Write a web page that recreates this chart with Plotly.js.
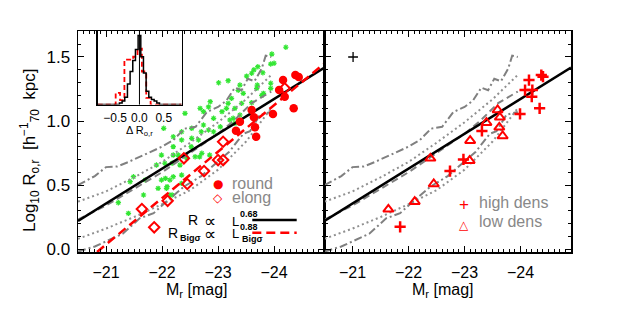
<!DOCTYPE html>
<html><head><meta charset="utf-8">
<script src="https://cdn.plot.ly/plotly-3.0.1.min.js"></script>
<style>body{margin:0;padding:0;background:#fff}#chart{width:629px;height:315px}</style>
</head><body><div id="chart"></div>
<script>
// ---- data ----
// comparison-sample curves (same in both panels)
const uddM = [-20.5,-20.8,-21.0,-21.2,-21.4,-21.7,-22.0,-22.2,-22.4,-22.6,-22.8,-23.0,-23.15,-23.3,-23.42,-23.53,-23.65,-23.78,-23.85,-23.95];
const uddR = [0.50,0.57,0.64,0.645,0.68,0.74,0.80,0.85,0.94,0.955,1.07,1.11,1.16,1.26,1.24,1.33,1.31,1.41,1.51,1.50];
const udM = [-20.5,-21.0,-21.5,-22.0,-22.5,-23.0,-23.5,-23.95];
const udR = [0.37,0.45,0.56,0.68,0.83,0.99,1.17,1.36];
const medM = [-20.5,-21.0,-21.5,-22.0,-22.5,-23.0,-23.3,-23.6,-23.95];
const medR = [0.23,0.34,0.47,0.60,0.75,0.90,1.01,1.14,1.23];
const ldM = [-20.5,-21.0,-21.5,-22.0,-22.5,-23.0,-23.5,-23.95];
const ldR = [0.08,0.16,0.25,0.35,0.46,0.62,0.84,1.10];
const lddM = [-20.5,-20.8,-21.0,-21.3,-21.6,-21.85,-22.1,-22.4,-22.7,-23.0,-23.2,-23.45,-23.57,-23.75,-23.95];
const lddR = [-0.02,0.02,0.06,0.12,0.24,0.28,0.38,0.49,0.57,0.68,0.76,0.90,0.92,1.05,1.07];
// fits
const fitM = [-20.5,-24.9];
const fitR = [0.22,1.417];
const bigM = [-20.84,-24.9];
const bigR = [-0.023,1.45];
// green comparison galaxies
const greenM = [-24.21,-23.96,-23.94,-24.00,-23.71,-23.60,-23.80,-23.01,-23.18,-23.39,-23.70,-23.94,-23.94,-23.81,-23.24,-22.86,-23.18,-23.42,-23.60,-22.68,-22.74,-23.07,-23.15,-22.41,-22.92,-23.27,-23.04,-22.83,-22.92,-22.53,-22.65,-23.36,-23.30,-23.45,-22.03,-22.20,-22.20,-22.35,-22.70,-22.35,-22.20,-22.52,-22.67,-21.99,-22.29,-22.85,-22.05,-21.90,-21.43,-21.70,-21.99,-22.14,-21.93,-22.08,-22.14,-21.67,-21.22,-21.40,-21.49,-22.18,-22.32,-22.44,-22.59,-22.06,-22.20,-22.35,-22.71,-22.09,-22.18,-22.35,-22.83,-23.51,-23.64,-23.69,-23.39,-23.21,-22.74,-22.53,-23.30,-23.78];
const greenR = [1.576,1.523,1.445,1.451,1.424,1.373,1.377,1.299,1.315,1.281,1.281,1.295,1.255,1.216,1.177,1.151,1.138,1.138,1.143,1.099,1.073,1.073,1.099,1.06,1.021,1.021,0.955,0.93,0.916,0.865,0.852,1.24,0.982,1.216,0.943,0.877,0.734,0.916,0.916,0.852,0.80,0.80,0.72,0.734,0.734,0.734,0.67,0.656,0.526,0.539,0.539,0.539,0.474,0.474,0.422,0.422,0.362,0.279,0.565,0.67,0.656,0.709,0.721,0.552,0.565,0.578,0.748,0.487,0.422,0.513,1.11,1.35,1.40,1.255,1.047,1.008,0.969,0.943,1.099,1.20];
// left panel: round / elong
const roundM = [-24.16,-24.38,-24.44,-24.09,-24.19,-23.98,-24.35,-23.60,-23.64,-23.39,-23.32,-23.68,-23.66];
const roundR = [1.32,1.359,1.344,1.242,1.19,1.055,1.099,1.086,1.029,0.995,0.924,0.877,0.951];
const elongM = [-22.39,-22.75,-23.09,-23.09,-23.00,-22.45,-22.10,-21.64,-21.86,-24.19];
const elongR = [0.709,0.609,0.838,0.695,0.695,0.508,0.377,0.3125,0.17,1.255];
// right panel: high / low density
const highM = [-24.15,-24.37,-24.40,-24.08,-24.21,-24.20,-24.34,-23.99,-23.31,-22.74,-22.98,-21.85];
const highR = [1.32,1.359,1.346,1.242,1.242,1.19,1.099,1.055,0.922,0.609,0.70,0.174];
const lowM = [-23.59,-23.63,-23.39,-23.62,-23.68,-23.10,-22.39,-23.09,-22.45,-22.11,-21.64];
const lowR = [1.086,1.029,0.987,0.951,0.883,0.846,0.709,0.69,0.508,0.37,0.31];
const errM = [-21.01];
const errR = [1.50];
// inset histograms of Delta R
const blackEdges = [-0.86,-0.4125,-0.3575,-0.3025,-0.2475,-0.1925,-0.1375,-0.0825,-0.0275,0.0275,0.0825,0.1375,0.1925,0.2475,0.3025,0.3575,0.4125,0.87];
const blackCounts = [0,0.02,0.05,0.10,0.28,0.45,0.60,0.75,0.94,0.65,0.43,0.18,0.10,0.07,0.05,0.02,0];
const redEdges = [-0.86,-0.49,-0.40,-0.31,-0.22,-0.13,-0.04,0.05,0.14,0.23,0.87];
const redCounts = [0,0.16,0.06,0.61,0.61,0.65,0.76,0.45,0.09,0];

const xTicks = [-21,-22,-23,-24];
const insetTicks = [-0.5,0,0.5];

// ---- helpers ----
function step(edges, counts){
  const x=[], y=[];
  for(let i=0;i<counts.length;i++){ x.push(edges[i]); y.push(counts[i]); }
  x.push(edges[edges.length-1]); y.push(counts[counts.length-1]);
  return {x,y};
}
const GRAY='#808080';
function curves(xa, ya){
  return [
    {x:uddM,y:uddR,xaxis:xa,yaxis:ya,mode:'lines',line:{color:GRAY,width:2,dash:'8px,3px,2px,3px'},hoverinfo:'skip'},
    {x:udM,y:udR,xaxis:xa,yaxis:ya,mode:'lines',line:{color:'#909090',width:2,dash:'2px,3px'},hoverinfo:'skip'},
    {x:medM,y:medR,xaxis:xa,yaxis:ya,mode:'lines',line:{color:GRAY,width:2,dash:'7px,4px'},hoverinfo:'skip'},
    {x:ldM,y:ldR,xaxis:xa,yaxis:ya,mode:'lines',line:{color:'#909090',width:2,dash:'2px,3px'},hoverinfo:'skip'},
    {x:lddM,y:lddR,xaxis:xa,yaxis:ya,mode:'lines',line:{color:GRAY,width:2,dash:'8px,3px,2px,3px'},hoverinfo:'skip'}
  ];
}
const RED='#ff0000';
const hb = step(blackEdges, blackCounts);
const hr = step(redEdges, redCounts);

const traces = [
  {x:greenM,y:greenR,xaxis:'x',yaxis:'y',mode:'markers',marker:{symbol:'asterisk-open',size:4.5,color:'#33e633',line:{width:1.2,color:'#33e633'}}},
  ...curves('x','y'),
  {x:fitM,y:fitR,xaxis:'x',yaxis:'y',mode:'lines',line:{color:'#000',width:2.5}},
  {x:bigM,y:bigR,xaxis:'x',yaxis:'y',mode:'lines',line:{color:RED,width:2.5,dash:'9px,5px'}},
  {x:roundM,y:roundR,xaxis:'x',yaxis:'y',mode:'markers',marker:{symbol:'circle',size:8.5,color:RED}},
  {x:elongM,y:elongR,xaxis:'x',yaxis:'y',mode:'markers',marker:{symbol:'diamond-open',size:8,color:RED,line:{width:2,color:RED}}},
  ...curves('x2','y2'),
  {x:fitM,y:fitR,xaxis:'x2',yaxis:'y2',mode:'lines',line:{color:'#000',width:2.5}},
  {x:highM,y:highR,xaxis:'x2',yaxis:'y2',mode:'markers',marker:{symbol:'cross-thin-open',size:8,color:RED,line:{width:2.5,color:RED}}},
  {x:lowM,y:lowR,xaxis:'x2',yaxis:'y2',mode:'markers',marker:{symbol:'triangle-up-open',size:9,color:RED,line:{width:2,color:RED}}},
  {x:errM,y:errR,xaxis:'x2',yaxis:'y2',mode:'markers',marker:{symbol:'cross-thin-open',size:7,color:'#000',line:{width:1.3,color:'#000'}}},
  {x:hr.x,y:hr.y,xaxis:'x3',yaxis:'y3',mode:'lines',line:{shape:'hv',color:RED,width:1.8,dash:'5px,3px'}},
  {x:hb.x,y:hb.y,xaxis:'x3',yaxis:'y3',mode:'lines',line:{shape:'hv',color:'#000',width:1.5}}
];

const FONT='Liberation Sans, Arial, sans-serif';
const tf = {family:FONT, size:16, color:'#000'};
const mainX = {range:[-20.5,-24.9],tickmode:'array',tickvals:xTicks,ticks:'inside',ticklen:6,tickwidth:1,tickcolor:'#000',
  minor:{tickmode:'linear',tick0:0,dtick:0.1,ticks:'inside',ticklen:3,tickwidth:1,tickcolor:'#000'},
  showline:true,linecolor:'#000',linewidth:1.5,mirror:'ticks',showgrid:false,zeroline:false,tickfont:tf,ticklabelstandoff:5};
const mainY = {range:[-0.023,1.703],tick0:0,dtick:0.5,tickformat:'.1f',ticks:'inside',ticklen:6,tickwidth:1,tickcolor:'#000',
  minor:{tick0:0,dtick:0.1,ticks:'inside',ticklen:3,tickwidth:1,tickcolor:'#000'},
  showline:true,linecolor:'#000',linewidth:1.5,mirror:'ticks',showgrid:false,zeroline:false,
  tickfont:{family:FONT,size:17,color:'#000'},ticklabelstandoff:3};

function P(px,py){ return {x:(px-78)/493, y:(252-py)/221}; }
const anns = [];
function ann(text, px, py, size, color, xanchor, extra, fam){
  const p=P(px,py);
  anns.push(Object.assign({text:text,x:p.x,y:p.y,xref:'paper',yref:'paper',showarrow:false,xanchor:xanchor||'center',yanchor:'middle',
    font:{family:fam||FONT,size:size,color:color||'#000'}},extra||{}));
}
// axis titles
ann('M<sub>r</sub> [mag]',197,290,16,'#000');
ann('M<sub>r</sub> [mag]',443,290,16,'#000');
ann('Log<sub>10</sub> R<sub>o,r</sub>  [h<sup>−1</sup><sub>70</sub>  kpc]',29,150,17,'#000','center',{textangle:-90});
// inset title
ann('Δ R<sub>o,r</sub>',139.7,130.5,11,'#000');
// left legend
const DV='DejaVu Sans';
ann('●',217.7,184.3,12,RED,'center',null,DV);
ann('◇',218.3,198.3,12,RED,'center',null,DV);
ann('round',230,183.3,16,'#888888','left');
ann('elong',230,197.5,16,'#888888','left');
// fit legend
ann('R',192.5,220,14,'#000');
ann('∝',209.5,221,17,'#000','center',null,DV);
ann('L',235,221,13,'#000');
ann('<b>0.68</b>',238,214,9,'#000','left');
ann('R',173,232.5,14,'#000');
ann('<b>Bigσ</b>',178,238,9,'#000','left');
ann('∝',209.5,233.5,17,'#000','center',null,DV);
ann('L',235,233.5,13,'#000');
ann('<b>0.88</b>',238,226.5,9,'#000','left');
ann('<b>Bigσ</b>',240,239,9,'#000','left');
// right legend
ann('+',464.3,204,17,RED);
ann('△',464.3,224.5,12,RED,'center',null,DV);
ann('high dens',476.7,202.7,16,'#888888','left');
ann('low dens',476.7,221.5,16,'#888888','left');

const l1a=P(252.3,220), l1b=P(296.7,220), l2a=P(252.3,232.7), l2b=P(296.7,232.7);
const shapes = [
  {type:'line',xref:'paper',yref:'paper',x0:l1a.x,x1:l1b.x,y0:l1a.y,y1:l1b.y,line:{color:'#000',width:2.5}},
  {type:'line',xref:'paper',yref:'paper',x0:l2a.x,x1:l2b.x,y0:l2a.y,y1:l2b.y,line:{color:RED,width:2.5,dash:'9px,5px'}},
  {type:'line',xref:'x3',yref:'y3 domain',x0:0,x1:0,y0:0,y1:1,line:{color:'#000',width:1}}
];

const layout = {
  width:629,height:315,margin:{l:78,r:58,t:31,b:63},
  paper_bgcolor:'#fff',plot_bgcolor:'rgba(0,0,0,0)',showlegend:false,
  xaxis:Object.assign({},mainX,{domain:[0,0.5],anchor:'y'}),
  yaxis:Object.assign({},mainY,{domain:[0,1],anchor:'x'}),
  xaxis2:Object.assign({},mainX,{domain:[0.5,1],anchor:'y2'}),
  yaxis2:Object.assign({},mainY,{domain:[0,1],anchor:'x2',matches:'y',showticklabels:false}),
  xaxis3:{domain:[0.04,0.2103],anchor:'y3',range:[-0.86,0.87],tickmode:'array',tickvals:insetTicks,tickformat:'.1f',
    ticks:'',showline:true,linecolor:'#000',linewidth:1.5,mirror:true,showgrid:false,zeroline:false,
    tickfont:{family:FONT,size:12,color:'#000'},ticklabelstandoff:2},
  yaxis3:{domain:[0.667,1],anchor:'x3',range:[0,1],showticklabels:false,ticks:'',showline:true,linecolor:'#000',linewidth:1.5,mirror:true,showgrid:false,zeroline:false},
  annotations:anns,shapes:shapes
};
Plotly.newPlot('chart',traces,layout,{staticPlot:true,displayModeBar:false});
</script></body></html>
